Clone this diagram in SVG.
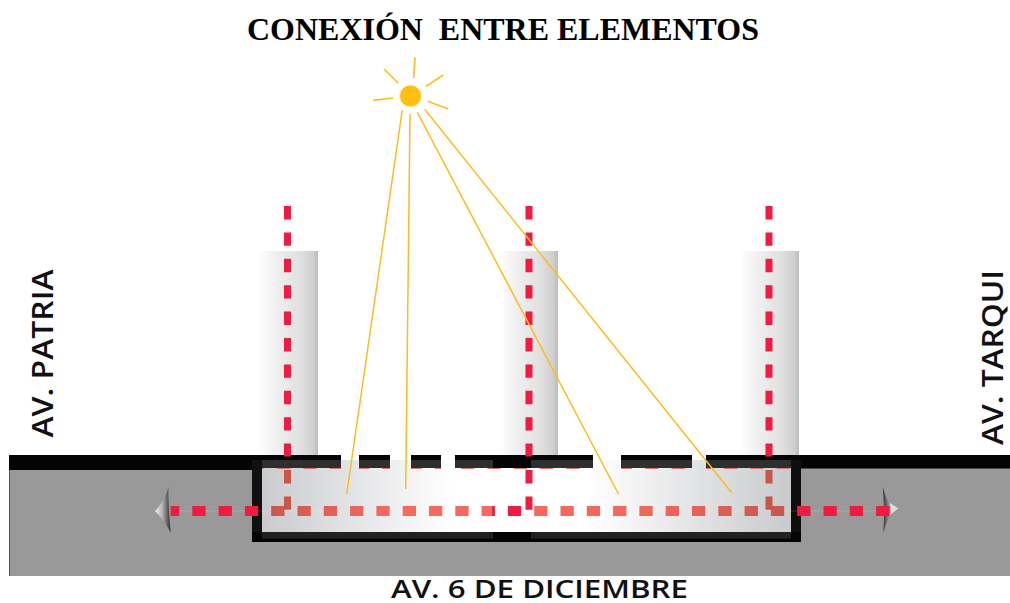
<svg xmlns="http://www.w3.org/2000/svg" width="1010" height="603" viewBox="0 0 1010 603">
<style>
.title{font-family:"Liberation Serif","Times New Roman",serif;font-weight:700;font-size:32px;fill:#000;white-space:pre}
.lbl{font-family:"Open Sans","Liberation Sans",sans-serif;font-weight:600;font-size:25px;fill:#111}
.side{font-size:28px}
.ray{stroke:#FDBE24;fill:none;stroke-width:1.7}
.ray2{stroke:#FBBC20;fill:none;stroke-width:1.5}
.v{stroke:#EE1C40;stroke-width:7;stroke-dasharray:13.4 13;fill:none}
.tower{fill:url(#tw)}
</style>
<defs>
<linearGradient id="tw" x1="0" x2="1" y1="0" y2="0"><stop offset="0" stop-color="#fff"/><stop offset=".25" stop-color="#f2f2f2"/><stop offset=".7" stop-color="#e0e0e0"/><stop offset=".92" stop-color="#cfcfcf"/><stop offset="1" stop-color="#bbb"/></linearGradient>
<linearGradient id="fl" gradientUnits="userSpaceOnUse" x1="262" x2="791" y1="0" y2="0"><stop offset="0" stop-color="#c9cbce"/><stop offset=".36" stop-color="#fff"/><stop offset=".62" stop-color="#fff"/><stop offset="1" stop-color="#c8cacc"/></linearGradient>
<linearGradient id="hr" gradientUnits="userSpaceOnUse" x1="170" x2="890" y1="0" y2="0">
<stop offset=".127" stop-color="#EE1C40"/><stop offset=".128" stop-color="#C8574B"/><stop offset=".3" stop-color="#F5695F"/><stop offset=".447" stop-color="#F5695F"/><stop offset=".448" stop-color="#EE1C40"/><stop offset=".50" stop-color="#EE1C40"/><stop offset=".501" stop-color="#F5695F"/><stop offset=".68" stop-color="#F0675C"/><stop offset=".86" stop-color="#C8574B"/><stop offset=".861" stop-color="#EE1C40"/>
</linearGradient>
<linearGradient id="al" x1="0" x2="1" y1="0" y2="0"><stop offset="0" stop-color="#f2f2f2"/><stop offset=".45" stop-color="#b5b5b5"/><stop offset="1" stop-color="#2e2e2e"/></linearGradient>
<linearGradient id="ar" x1="0" x2="1" y1="0" y2="0"><stop offset="0" stop-color="#2e2e2e"/><stop offset="1" stop-color="#b0b0b0"/></linearGradient>
<clipPath id="bits"><rect x="262" y="460" width="79" height="9"/><rect x="359" y="460" width="31" height="9"/><rect x="411" y="460" width="30" height="9"/><rect x="455" y="460" width="138" height="9"/><rect x="621" y="460" width="71" height="9"/><rect x="706" y="460" width="85" height="9"/></clipPath>
</defs>
<rect width="1010" height="603" fill="#fff"/>
<g id="towers">
<rect id="tower-1" class="tower" x="258" y="251" width="60" height="205"/>
<rect id="tower-2" class="tower" x="499" y="251" width="59" height="205"/>
<rect id="tower-3" class="tower" x="740" y="251" width="59" height="205"/>
</g>
<g id="road">
<rect x="9" y="468" width="1001" height="108" fill="#999"/>
<rect x="9" y="470" width="1" height="106" fill="#555"/>
<rect x="9" y="455" width="243" height="15" fill="#020405"/>
<rect x="801" y="455" width="209" height="13.5" fill="#020405"/>
</g>
<g id="building">
<rect x="262" y="460" width="529" height="72" fill="url(#fl)"/>
<rect x="252" y="460" width="10" height="82" fill="#111"/>
<rect x="791" y="460" width="10" height="82" fill="#0e0e0e"/>
<rect x="252" y="532" width="549" height="10" fill="#050505"/>
<rect x="262" y="532" width="231" height="6.5" fill="#222"/>
<rect x="531" y="532" width="260" height="6.5" fill="#222"/>
<rect x="493" y="532" width="38" height="10" fill="#020405"/>
<line x1="262" x2="791" y1="466" y2="466" stroke="#D9776C" stroke-width="7" stroke-dasharray="13.3 13" stroke-dashoffset="-15" clip-path="url(#bits)"/>
</g>
<g id="band-segments" fill="#020405">
<rect x="252" y="455" width="89" height="5"/><rect x="359" y="455" width="31" height="5"/><rect x="411" y="455" width="30" height="5"/><rect x="455" y="455" width="138" height="5"/><rect x="621" y="455" width="71" height="5"/><rect x="706" y="455" width="95" height="5"/>
<g fill="#2f2f2f"><rect x="262" y="460" width="79" height="8"/><rect x="359" y="460" width="31" height="8"/><rect x="411" y="460" width="30" height="8"/><rect x="455" y="460" width="38" height="8"/><rect x="531" y="460" width="62" height="8"/><rect x="621" y="460" width="71" height="8"/><rect x="706" y="460" width="85" height="8"/></g>
<rect x="493" y="460" width="38" height="8"/>
</g>
<g id="arrow-right"><path d="M890 503 L898.3 508.5 L890 515Z" fill="#ddd"/><path d="M882.7 486.7 Q886 499 891 507 L891 513 Q886 522 883.3 532.7 Q885 510 882.7 486.7Z" fill="url(#ar)"/></g>
<g id="connectors">
<line x1="171" x2="889" y1="511" y2="511" stroke="#fff" stroke-opacity=".15"/>
<line x1="170.7" x2="889.4" y1="511" y2="511" stroke="url(#hr)" stroke-width="10" stroke-dasharray="13.3 13" stroke-dashoffset="4.7"/>
<line class="v" x1="287.5" x2="287.5" y1="206" y2="456.5"/>
<line class="v" x1="529" x2="529" y1="206" y2="456.5"/>
<line class="v" x1="769" x2="769" y1="206" y2="456.5"/>
<line class="v" x1="287.5" x2="287.5" y1="470" y2="510" style="stroke:#C8574B"/>
<line class="v" x1="529" x2="529" y1="470" y2="510"/>
<line class="v" x1="769" x2="769" y1="470" y2="510" style="stroke:#C8574B"/>
</g>
<g id="arrow-left"><path d="M168.3 486.7 C166 497 161 505 155 511 C161 517 167 525 170.7 532.7 Q168.5 510 168.3 486.7Z" fill="url(#al)"/></g>
<g id="sun">
<circle cx="410.5" cy="96" r="11" fill="#FFBE12" stroke="#FFF3D0" stroke-width="1"/>
<g class="ray"><line x1="415" y1="57.3" x2="413.7" y2="78"/><line x1="384" y1="69" x2="398" y2="83"/><line x1="443.3" y1="75" x2="426" y2="86.3"/><line x1="373.3" y1="100.3" x2="393.3" y2="98"/><line x1="427.7" y1="101.3" x2="448.3" y2="109"/></g>
<g class="ray2"><line x1="402.3" y1="110" x2="346.7" y2="494"/><line x1="410" y1="114" x2="405.7" y2="489"/><line x1="417.3" y1="112.3" x2="618.5" y2="494"/><line x1="424.7" y1="109.3" x2="731.7" y2="492.7"/></g>
</g>
<text id="title" class="title" x="247" y="40" textLength="512" lengthAdjust="spacingAndGlyphs">CONEXIÓN  ENTRE ELEMENTOS</text>
<text id="label-patria" class="lbl side" transform="translate(53 437.5) rotate(-90)" textLength="168" lengthAdjust="spacingAndGlyphs">AV. PATRIA</text>
<text id="label-tarqui" class="lbl side" transform="translate(1002.5 445) rotate(-90)" textLength="175" lengthAdjust="spacingAndGlyphs">AV. TARQUI</text>
<text id="label-diciembre" class="lbl" x="391" y="597.5" textLength="297" lengthAdjust="spacingAndGlyphs">AV. 6 DE DICIEMBRE</text>
</svg>
